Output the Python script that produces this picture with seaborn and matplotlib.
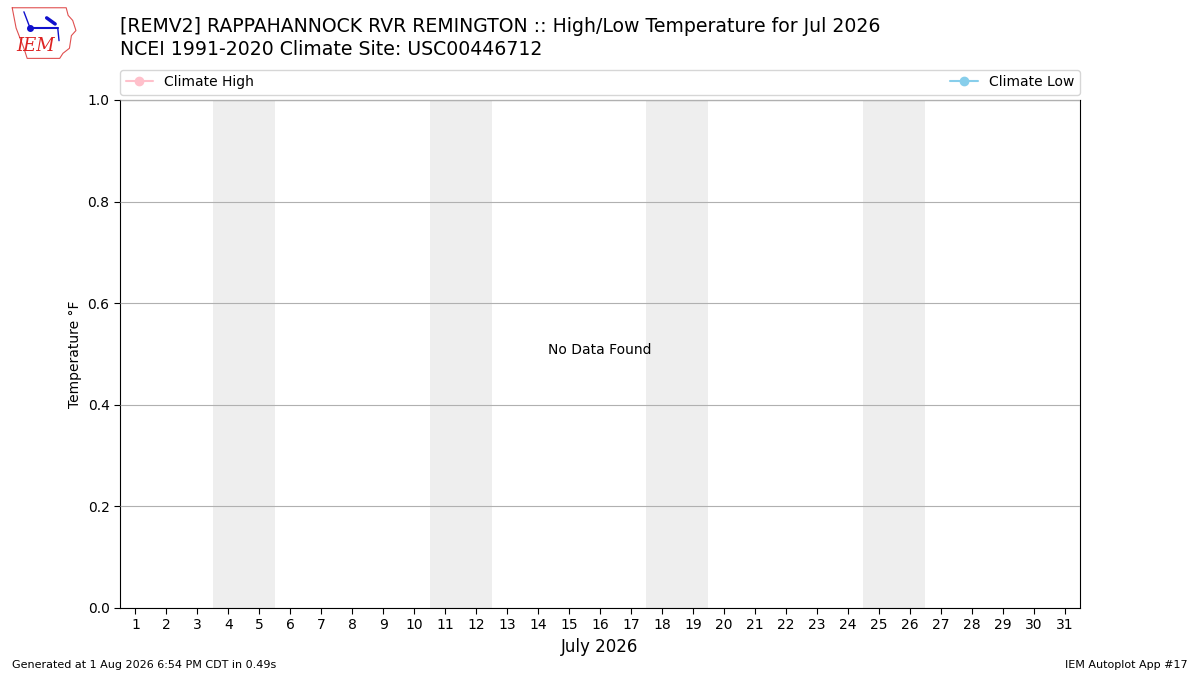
import numpy as np
import pandas as pd
import matplotlib
matplotlib.use("Agg")
import matplotlib.pyplot as plt
import seaborn as sns

# Data: no observations for the month, only the calendar
days = list(range(1, 32))
climate_high = []
climate_low = []
weekend_days = [4, 5, 11, 12, 18, 19, 25, 26]
title_lines = [
    "[REMV2] RAPPAHANNOCK RVR REMINGTON :: High/Low Temperature for Jul 2026",
    "NCEI 1991-2020 Climate Site: USC00446712",
]

sns.set_style("white")
plt.rcParams["font.family"] = ["DejaVu Sans"]
plt.rcParams.update({"text.color": "black", "axes.labelcolor": "black",
                     "xtick.color": "black", "ytick.color": "black"})

fig = plt.figure(figsize=(12, 6.75), dpi=100)
ax = fig.add_axes([0.1, 0.0993, 0.8, 0.7526])

# weekend shading
for d in weekend_days:
    ax.axvspan(d - 0.5, d + 0.5, color="#eeeeee", lw=0, zorder=0)

df = pd.DataFrame({"day": days})
ax.plot(climate_high, climate_high, color="pink", marker="o", label="Climate High")
ax.plot(climate_low, climate_low, color="skyblue", marker="o", label="Climate Low")

ax.set_xlim(0.5, 31.5)
ax.set_ylim(0, 1)
ax.set_xticks(df["day"])
ax.set_xticklabels([str(d) for d in days], fontsize=10)
ax.set_yticks(np.arange(0, 1.01, 0.2))
ax.set_yticklabels([f"{v:.1f}" for v in np.arange(0, 1.01, 0.2)], fontsize=10)
ax.tick_params(axis="both", length=4, direction="out", bottom=True, left=True)
ax.yaxis.grid(True, color="#b0b0b0", lw=0.8)
ax.set_axisbelow(False)
for s in ax.spines.values():
    s.set_color("black")
    s.set_linewidth(0.8)

ax.set_xlabel("July 2026", fontsize=12)
ax.set_ylabel("Temperature \u00b0F", fontsize=10)
ax.text(0.5, 0.5, "No Data Found", transform=ax.transAxes, ha="center",
        va="baseline", fontsize=10)

ax.legend(loc="lower left", bbox_to_anchor=(0, 1.01, 1, 0.05), ncol=2,
          mode="expand", borderaxespad=0, fontsize=10, frameon=True)

fig.text(0.1, 0.947, title_lines[0], fontsize=13.6, va="bottom")
fig.text(0.1, 0.913, title_lines[1], fontsize=13.6, va="bottom")

fig.text(0.01, 0.01, "Generated at 1 Aug 2026 6:54 PM CDT in 0.49s", fontsize=8)
fig.text(0.99, 0.01, "IEM Autoplot App #17", fontsize=8, ha="right")

# rough IEM logo
lax = fig.add_axes([0.008, 0.912, 0.058, 0.078])
lax.set_xlim(-0.02, 1.05)
lax.set_ylim(-0.02, 1.02)
lax.axis("off")
ox = [0.02, 0.85, 0.88, 0.95, 1.0, 0.93, 0.9, 0.8, 0.75, 0.25, 0.2, 0.08, 0.02]
oy = [1.0, 1.0, 0.85, 0.75, 0.55, 0.45, 0.2, 0.1, 0.0, 0.0, 0.2, 0.6, 1.0]
lax.plot(ox, oy, color="#e05050", lw=0.8)
lax.plot([0.3, 0.72], [0.6, 0.6], color="#1010cc", lw=1.5)
lax.plot([0.3], [0.6], "o", color="#1010cc", ms=4)
lax.plot([0.2, 0.28], [0.92, 0.65], color="#1010cc", lw=1)
lax.plot([0.55, 0.68], [0.8, 0.68], color="#1010cc", lw=2.5)
lax.plot([0.72, 0.74], [0.6, 0.35], color="#1010cc", lw=1)
lax.text(0.38, 0.25, "IEM", color="#dd2222", fontsize=13, style="italic",
         family="DejaVu Serif", ha="center", va="center")

fig.savefig("out.png", dpi=100)
